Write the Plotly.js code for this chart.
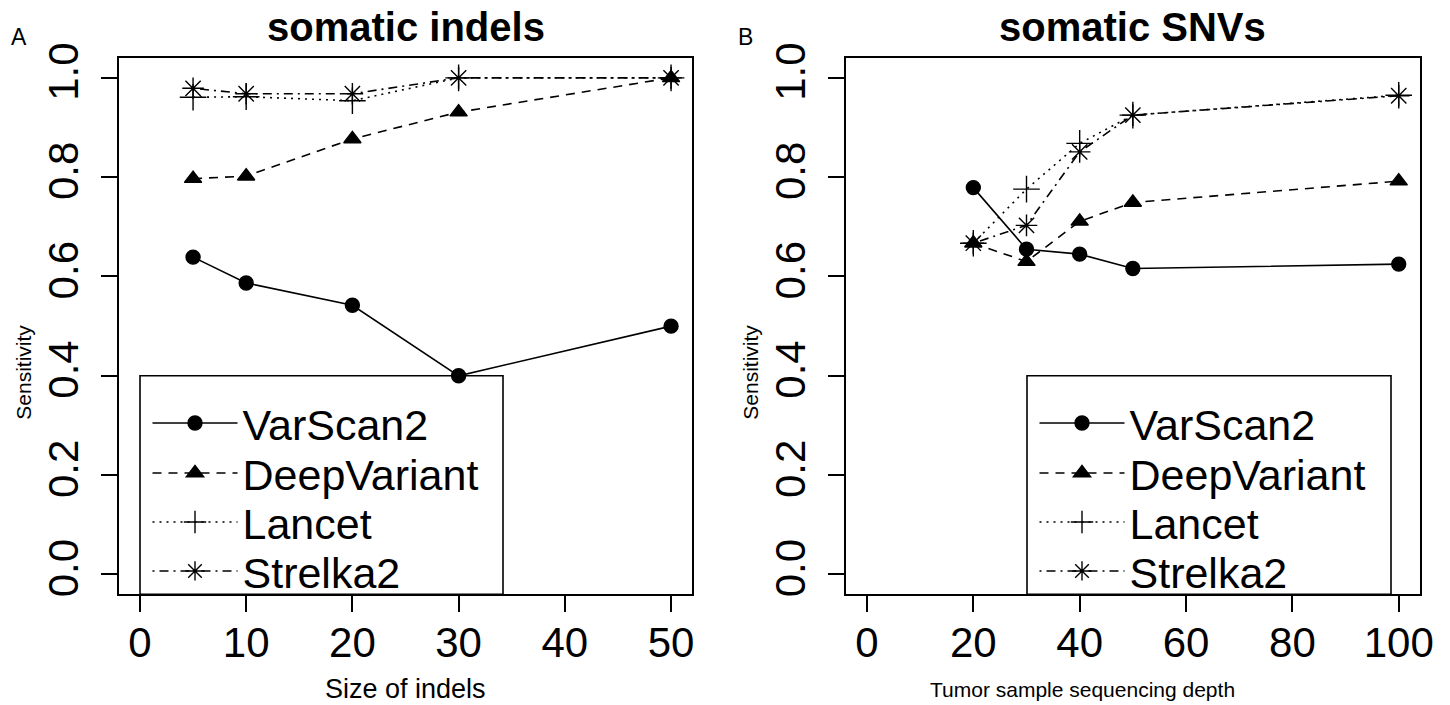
<!DOCTYPE html>
<html><head><meta charset="utf-8">
<script src="https://cdn.plot.ly/plotly-3.0.1.min.js"></script>
<style>html,body{margin:0;padding:0;background:#fff}#chart{width:1450px;height:705px}</style>
</head><body><div id="chart"></div>
<script>
// ---- data ----
const methods = ['VarScan2', 'DeepVariant', 'Lancet', 'Strelka2'];

const indelSize = [5, 10, 20, 30, 50];
const indelVarScan2 = [0.639, 0.587, 0.542, 0.400, 0.500];
const indelDeepVariant = [0.797, 0.802, 0.877, 0.931, 1.000];
const indelLancet = [0.961, 0.962, 0.954, 1.000, 1.000];
const indelStrelka2 = [0.979, 0.968, 0.968, 1.000, 1.000];

const snvDepth = [20, 30, 40, 50, 100];
const snvVarScan2 = [0.779, 0.655, 0.645, 0.616, 0.625];
const snvDeepVariant = [0.667, 0.630, 0.711, 0.749, 0.792];
const snvLancet = [0.667, 0.776, 0.868, 0.925, 0.965];
const snvStrelka2 = [0.667, 0.703, 0.851, 0.925, 0.964];

const yTicks = [0, 0.2, 0.4, 0.6, 0.8, 1.0];
const indelTicks = [0, 10, 20, 30, 40, 50];
const depthTicks = [0, 20, 40, 60, 80, 100];

const panelTitles = ['somatic indels', 'somatic SNVs'];
const xTitles = ['Size of indels', 'Tumor sample sequencing depth'];
const yTitle = 'Sensitivity';
const panelLetters = ['A', 'B'];

// ---- styles ----
const FONT = 'Liberation Sans, Arial, Helvetica, sans-serif';
const W = 1450, H = 705;
const styles = {
  VarScan2:    {dash: 'solid',             symbol: 'circle',            size: 14},
  DeepVariant: {dash: '9px,7px',           symbol: 'triangle-up',       size: 15},
  Lancet:      {dash: '2px,5px',           symbol: 'cross-thin-open',   size: 19},
  Strelka2:    {dash: '2px,5px,9px,5px',   symbol: 'asterisk-open',     size: 18}
};

const px2x = p => p / W;
const px2y = p => 1 - p / H;

const panelSeries = [
  {x: indelSize, ys: [indelVarScan2, indelDeepVariant, indelLancet, indelStrelka2], xa: 'x', ya: 'y'},
  {x: snvDepth, ys: [snvVarScan2, snvDeepVariant, snvLancet, snvStrelka2], xa: 'x2', ya: 'y2'}
];

const traces = [];
let legendIdx = 1;
panelSeries.forEach((p, pi) => {
  p.ys.forEach((yv, si) => {
    const name = methods[si];
    const st = styles[name];
    traces.push({
      type: 'scatter', mode: 'lines+markers',
      x: p.x, y: yv, xaxis: p.xa, yaxis: p.ya, name: name,
      legend: legendIdx === 1 ? 'legend' : 'legend' + legendIdx,
      showlegend: true,
      line: {color: '#000', width: 1.6, dash: st.dash},
      marker: {symbol: st.symbol, size: st.size, color: '#000', line: {color: '#000', width: 1.4}},
      hoverinfo: 'x+y+name'
    });
    legendIdx++;
  });
});

// ---- layout ----
const boxX = [[118.7, 692.3], [845.7, 1420]];
const boxY = [58, 594.3];
const axisCommon = {
  ticks: 'outside', ticklen: 16, tickwidth: 2, tickcolor: '#000',
  showline: true, mirror: true, linecolor: '#000', linewidth: 2,
  showgrid: false, zeroline: false, fixedrange: true,
  tickfont: {family: FONT, size: 42, color: '#000'}
};

const layout = {
  width: W, height: H, showlegend: true,
  margin: {l: 0, r: 0, t: 0, b: 0},
  paper_bgcolor: '#fff', plot_bgcolor: '#fff',
  font: {family: FONT, color: '#000'},
  xaxis: Object.assign({}, axisCommon, {domain: [px2x(boxX[0][0]), px2x(boxX[0][1])], range: [-2, 52], tickvals: indelTicks, anchor: 'y', ticklabelstandoff: -6}),
  yaxis: Object.assign({}, axisCommon, {domain: [px2y(boxY[1]), px2y(boxY[0])], range: [-0.04, 1.04], tickvals: yTicks, tickformat: '.1f', tickangle: -90, anchor: 'x', ticklabelstandoff: 6}),
  xaxis2: Object.assign({}, axisCommon, {domain: [px2x(boxX[1][0]), px2x(boxX[1][1])], range: [-4, 104], tickvals: depthTicks, anchor: 'y2', ticklabelstandoff: -6}),
  yaxis2: Object.assign({}, axisCommon, {domain: [px2y(boxY[1]), px2y(boxY[0])], range: [-0.04, 1.04], tickvals: yTicks, tickformat: '.1f', tickangle: -90, anchor: 'x2', ticklabelstandoff: 6}),
  annotations: [],
  shapes: []
};

// legends: one per entry so rows match the reference spacing
const legendRowsPx = [423, 473, 522, 571];
const legendSymbolCenterPx = [195, 1082];
const itemW = 85;
legendIdx = 1;
for (let pi = 0; pi < 2; pi++) {
  for (let si = 0; si < 4; si++) {
    const key = legendIdx === 1 ? 'legend' : 'legend' + legendIdx;
    layout[key] = {
      x: px2x(legendSymbolCenterPx[pi] - (itemW + 10) / 2), xanchor: 'left',
      y: px2y(legendRowsPx[si]), yanchor: 'middle',
      bgcolor: 'rgba(0,0,0,0)', borderwidth: 0,
      itemwidth: itemW, itemsizing: 'trace', itemclick: false, itemdoubleclick: false,
      font: {family: FONT, size: 43, color: '#000'}
    };
    legendIdx++;
  }
}

// legend frames
const legendFramesPx = [[140, 503], [1027, 1391]];
legendFramesPx.forEach(f => {
  layout.shapes.push({type: 'rect', xref: 'paper', yref: 'paper',
    x0: px2x(f[0]), x1: px2x(f[1]), y0: px2y(boxY[1]), y1: px2y(375.8),
    line: {color: '#000', width: 1.6}, fillcolor: 'rgba(0,0,0,0)', layer: 'below'});
});

const xTitleCenterPx = [405.5, 1082];
const xTitleSize = [27, 21];
const yTitleCenterPx = 372;
for (let pi = 0; pi < 2; pi++) {
  const cx = (boxX[pi][0] + boxX[pi][1]) / 2;
  layout.annotations.push({text: panelTitles[pi], xref: 'paper', yref: 'paper', x: px2x(cx), y: px2y(27),
    xanchor: 'center', yanchor: 'middle', showarrow: false,
    font: {family: FONT, size: 40, color: '#000', weight: 'bold'}});
  layout.annotations.push({text: xTitles[pi], xref: 'paper', yref: 'paper', x: px2x(xTitleCenterPx[pi]), y: px2y(689),
    xanchor: 'center', yanchor: 'middle', showarrow: false,
    font: {family: FONT, size: xTitleSize[pi], color: '#000'}});
  layout.annotations.push({text: yTitle, xref: 'paper', yref: 'paper', x: px2x(boxX[pi][0] - 96), y: px2y(yTitleCenterPx),
    xanchor: 'center', yanchor: 'middle', showarrow: false, textangle: -90,
    font: {family: FONT, size: 21, color: '#000'}});
  layout.annotations.push({text: panelLetters[pi], xref: 'paper', yref: 'paper', x: px2x(boxX[pi][0] - 100), y: px2y(37),
    xanchor: 'center', yanchor: 'middle', showarrow: false,
    font: {family: FONT, size: 23, color: '#000'}});
}

Plotly.newPlot('chart', traces, layout, {displayModeBar: false, staticPlot: false, responsive: false});
</script>
</body></html>
